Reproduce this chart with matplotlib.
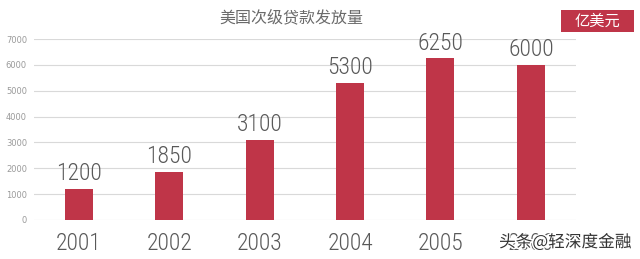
import matplotlib
matplotlib.use("Agg")
import matplotlib.pyplot as plt
import matplotlib.patheffects as pe
from matplotlib import font_manager as fm
from matplotlib.patches import Rectangle

years = ['2001', '2002', '2003', '2004', '2005', '2006']
values = [1200, 1850, 3100, 5300, 6250, 6000]
yticks = [0, 1000, 2000, 3000, 4000, 5000, 6000, 7000]

bar_color = '#BF3548'
text_gray = '#595959'

available = set(f.name for f in fm.fontManager.ttflist)
num_font = 'DejaVu Sans'
for cand in ['Roboto Condensed', 'Liberation Sans Narrow', 'Open Sans Condensed',
             'Fira Sans Condensed', 'PT Sans Narrow', 'Archivo Narrow', 'Barlow Semi Condensed']:
    if cand in available:
        num_font = cand
        break
plt.rcParams['font.family'] = [num_font, 'Noto Sans CJK SC', 'DejaVu Sans']

fig = plt.figure(figsize=(6.4, 2.59), dpi=100)
ax = fig.add_axes([0.053, 0.151, 0.847, 0.698])
x = range(len(years))
ax.bar(x, values, width=0.31, color=bar_color, zorder=3)
ax.set_xlim(-0.5, 5.5)
ax.set_ylim(0, 7000)
ax.set_yticks(yticks)
ax.set_yticklabels([str(v) for v in yticks], fontsize=6, color='#9a9a9a',
                   family=['DejaVu Sans'])
ax.set_xticks(list(x))
ax.set_xticklabels(years, fontsize=17, color=text_gray, fontweight='light')
ax.tick_params(axis='both', length=0)
ax.tick_params(axis='x', pad=8.5)
ax.tick_params(axis='y', pad=5)
ax.grid(axis='y', color='#D9D9D9', linewidth=0.8, zorder=0)
for s in ax.spines.values():
    s.set_visible(False)

for xi, v in zip(x, values):
    ax.text(xi, v + 150, str(v), ha='center', va='bottom', fontsize=17,
            color=text_gray, fontweight='light')

fig.text(0.455, 0.93, '美国次级贷款发放量', ha='center', va='center', fontsize=11.5,
         color='#6a6a6a', family=['Noto Sans CJK SC'])

fig.patches.append(Rectangle((561 / 640, 1 - 32 / 259), 73 / 640, 22 / 259,
                             transform=fig.transFigure, facecolor=bar_color,
                             edgecolor='none', figure=fig))
fig.text(597.5 / 640, 1 - 21 / 259, '亿美元', ha='center', va='center', fontsize=11,
         color='white', family=['Noto Sans CJK SC'])

t = fig.text(0.883, 0.064, '头条@轻深度金融', ha='center', va='center', fontsize=12,
             color='#333333', family=['Noto Sans CJK SC', 'DejaVu Sans'])
t.set_path_effects([pe.withStroke(linewidth=2, foreground='white')])

fig.savefig('out.png', dpi=100)
